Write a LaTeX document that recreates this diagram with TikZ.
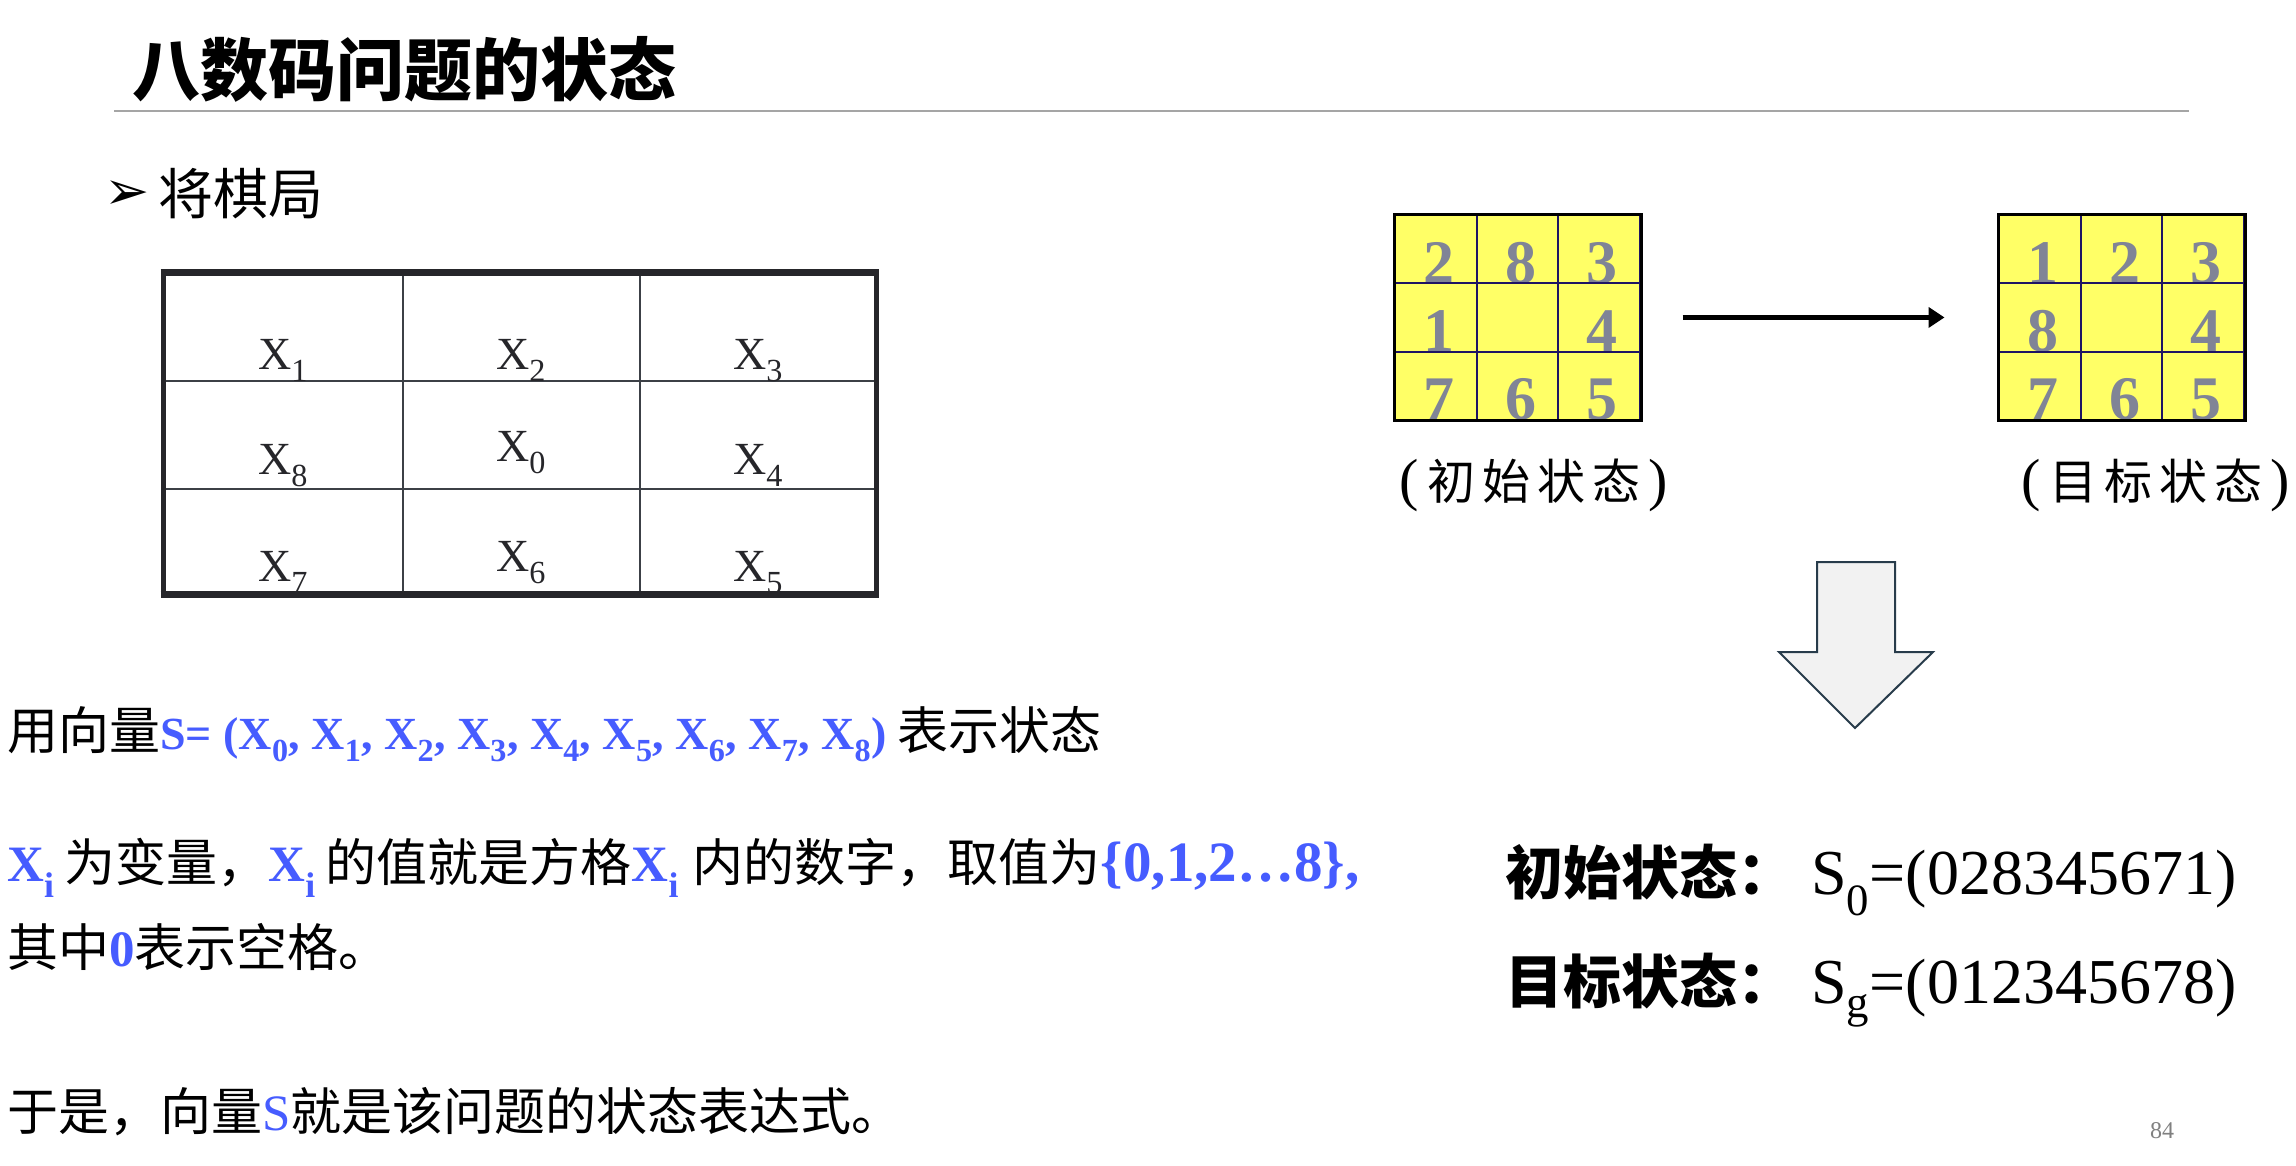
\documentclass[tikz,border=0pt]{standalone}
\usepackage{fontspec}
\setmainfont{Liberation Serif}
\newfontfamily\cjk{Noto Sans CJK SC}
\newfontfamily\dingfont{DejaVu Sans}
\usetikzlibrary{arrows.meta, positioning, calc, fit}
\definecolor{vecblue}{RGB}{70,92,255}
\definecolor{tabdark}{RGB}{38,38,42}
\definecolor{tabline}{RGB}{60,64,70}
\definecolor{gridnavy}{RGB}{30,20,100}
\definecolor{puzzleyellow}{RGB}{255,255,102}
\definecolor{digitgray}{RGB}{128,132,150}
\definecolor{arrowfill}{RGB}{242,242,242}
\definecolor{arrowedge}{RGB}{40,60,75}
\definecolor{rulegray}{RGB}{165,165,165}
\newcommand{\bluetxt}[1]{{\color{vecblue}\rmfamily\bfseries #1}}
\newcommand{\vx}[1]{X\textsubscript{#1}}
% label in brackets with spread characters
\newcommand{\statename}[4]{{\rmfamily\fontsize{58}{60}\selectfont(}\hspace{8pt}#1\hspace{7pt}#2\hspace{7pt}#3\hspace{7pt}#4\hspace{8pt}{\rmfamily\fontsize{58}{60}\selectfont)}}
\tikzset{
  titletext/.style={anchor=base west, inner sep=0pt, font=\cjk\bfseries\fontsize{68}{80}\selectfont},
  bulletline/.style={anchor=base west, inner sep=0pt, font=\cjk\fontsize{55}{64}\selectfont},
  bodyline/.style={anchor=base west, inner sep=0pt, font=\cjk\fontsize{51}{60}\selectfont},
  cellvar/.style={anchor=base, inner sep=0pt, font=\fontsize{46}{54}\selectfont, text=tabdark},
  tabinner/.style={draw=tabline, line width=2.5pt},
  tabouter/.style={draw=tabdark, line width=5pt},
  tabedge/.style={draw=tabdark, line width=7pt},
  puzzlecell/.style={draw=gridnavy, line width=2pt, fill=puzzleyellow,
    minimum width=81.7pt, minimum height=68.3pt, inner sep=0pt},
  puzzleframe/.style={draw=black, line width=3pt, inner sep=0pt},
  digit/.style={anchor=base, inner sep=0pt, font=\bfseries\fontsize{62}{70}\selectfont, text=digitgray},
  statelabel/.style={inner sep=0pt, font=\cjk\fontsize{48}{56}\selectfont},
  steparrow/.style={-{Triangle[length=16pt,width=20pt]}, line width=5pt, black},
  blockarrow/.style={draw=arrowedge, fill=arrowfill, line width=2pt, line join=miter},
  statehead/.style={anchor=base west, inner sep=0pt, font=\cjk\bfseries\fontsize{58}{66}\selectfont},
  statevalue/.style={anchor=base west, inner sep=0pt, font=\fontsize{64}{72}\selectfont},
  pagenum/.style={anchor=base west, inner sep=0pt, font=\fontsize{24}{28}\selectfont, text=gray}
}
% one 3x3 board: name, top left corner, digits row by row
\newcommand{\puzzle}[3]{%
  \foreach \d [count=\k from 0] in {#3} {
    \pgfmathtruncatemacro\prow{int(\k/3)}
    \pgfmathtruncatemacro\pcol{mod(\k,3)}
    \node[puzzlecell] (#1-\k) at ($(#2)+(\pcol*81.7+40.85,\prow*68.3+34.15)$) {};
    \node[digit] (#1-d\k) at ([xshift=3pt,yshift=1pt]#1-\k.south) {\d};
  }
  \node[puzzleframe, fit=(#1-0)(#1-8)] (#1) {};
}

\begin{document}
\begin{tikzpicture}[x=1pt, y=-1pt]
  \useasboundingbox (0,0) rectangle (2296,1165);
  \fill[white] (0,0) rectangle (2296,1165);
  \clip (0,0) rectangle (2296,1165);

  % heading
  \node[titletext] (title) at (132,95) {八数码问题的状态};
  \draw[rulegray, line width=2pt] (114,111) -- (2189,111);
  \node[anchor=base west, inner sep=0pt, font=\dingfont\fontsize{54}{60}\selectfont] (bullet) at (104,209) {➢};
  \node[bulletline] (board) at (158,214) {将棋局};

  % variable table
  \draw[tabinner] (403,272) -- (403,594);
  \draw[tabinner] (640,272) -- (640,594);
  \draw[tabinner] (163,381) -- (876,381);
  \draw[tabinner] (163,489) -- (876,489);
  \draw[tabouter] (163,272) rectangle (876,594);
  \draw[tabedge] (160.5,272) -- (878.5,272);
  \draw[tabedge] (160.5,594) -- (878.5,594);
  \foreach \i/\x/\y in {1/283/369, 2/521/369, 3/758/369,
                        8/283/474, 0/521/461, 4/758/474,
                        7/283/581, 6/521/571, 5/758/581}
    \node[cellvar] (var\i) at (\x,\y) {\vx{\i}};

  % boards
  \puzzle{init}{1395,215}{2,8,3,1,,4,7,6,5}
  \puzzle{goal}{1999,215}{1,2,3,8,,4,7,6,5}
  \draw[steparrow, shorten <=40pt, shorten >=52pt] (init) -- (goal);
  \node[statelabel, below=36pt of init, xshift=16pt] (initlab) {\statename{初}{始}{状}{态}};
  \node[statelabel, below=36pt of goal, xshift=34pt] (goallab) {\statename{目}{标}{状}{态}};

  % block arrow
  \draw[blockarrow] (1817,562) -- (1895,562) -- (1895,652) -- (1933,652)
    -- (1855,728) -- (1779,652) -- (1817,652) -- cycle;

  \node[statehead] (s0head) at (1505,894) {初始状态：};
  \node[statevalue] (s0val) at (1811,894) {S\textsubscript{0}=(028345671)};
  \node[statehead] (sghead) at (1505,1003) {目标状态：};
  \node[statevalue] (sgval) at (1811,1003) {S\textsubscript{g}=(012345678)};

  % text lines
  \node[bodyline] (line1) at (7,749) {用向量\bluetxt{\fontsize{46}{56}\selectfont S= (\vx{0}, \vx{1}, \vx{2}, \vx{3}, \vx{4}, \vx{5}, \vx{6}, \vx{7}, \vx{8})} 表示状态};
  \node[bodyline] (line2) at (7,881) {\bluetxt{\vx{i}}\hspace{10pt}为变量，\bluetxt{\vx{i}}\hspace{10pt}的值就是方格\bluetxt{\vx{i}}\hspace{14pt}内的数字，取值为\bluetxt{\fontsize{57}{60}\selectfont\{0,1,2…8\},}};
  \node[bodyline] (line3) at (7,966) {其中\bluetxt{0}表示空格。};
  \node[bodyline] (line4) at (7,1130) {于是，向量{\color{vecblue}\rmfamily S}就是该问题的状态表达式。};

  \node[pagenum] (page) at (2150,1138) {84};
\end{tikzpicture}
\end{document}
